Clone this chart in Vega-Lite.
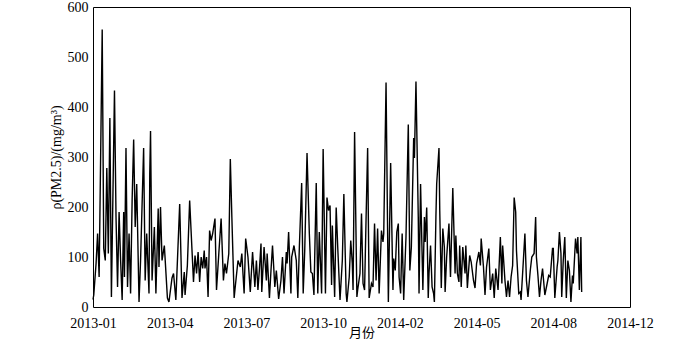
{
  "$schema": "https://vega.github.io/schema/vega-lite/v6.json",
  "width": 537,
  "height": 300,
  "autosize": {"type": "none"},
  "padding": {"left": 93, "top": 7, "right": 70, "bottom": 33},
  "background": "white",
  "config": {
    "view": {"stroke": "black", "strokeWidth": 1},
    "axis": {
      "grid": false,
      "ticks": false,
      "domain": false,
      "labelFont": "Liberation Serif",
      "labelFontSize": 14,
      "labelColor": "black",
      "labelFlush": false,
      "labelOverlap": false,
      "titleFont": "Liberation Serif",
      "titleFontSize": 14,
      "titleFontWeight": "normal",
      "titleColor": "black"
    }
  },
  "data": {
    "values": [
      {"day":0,"pm25":15},{"day":1,"pm25":24},{"day":4,"pm25":87},{"day":6,"pm25":147},{"day":8,"pm25":60},{"day":12,"pm25":555},{"day":14,"pm25":117},{"day":16,"pm25":93},{"day":18,"pm25":278},{"day":20,"pm25":107},{"day":22,"pm25":378},{"day":24,"pm25":20},{"day":28,"pm25":433},{"day":30,"pm25":180},{"day":32,"pm25":40},{"day":34,"pm25":190},{"day":36,"pm25":93},{"day":38,"pm25":14},{"day":40,"pm25":190},{"day":41,"pm25":60},{"day":43,"pm25":318},{"day":45,"pm25":40},{"day":47,"pm25":147},{"day":49,"pm25":27},{"day":51,"pm25":213},{"day":53,"pm25":335},{"day":55,"pm25":160},{"day":57,"pm25":246},{"day":60,"pm25":10},{"day":62,"pm25":93},{"day":66,"pm25":318},{"day":68,"pm25":53},{"day":70,"pm25":147},{"day":73,"pm25":27},{"day":74,"pm25":266},{"day":75,"pm25":352},{"day":77,"pm25":53},{"day":80,"pm25":160},{"day":82,"pm25":27},{"day":85,"pm25":197},{"day":86,"pm25":80},{"day":88,"pm25":200},{"day":90,"pm25":93},{"day":93,"pm25":123},{"day":97,"pm25":18},{"day":99,"pm25":10},{"day":103,"pm25":58},{"day":105,"pm25":67},{"day":108,"pm25":14},{"day":113,"pm25":206},{"day":116,"pm25":18},{"day":119,"pm25":70},{"day":120,"pm25":24},{"day":123,"pm25":83},{"day":126,"pm25":213},{"day":131,"pm25":50},{"day":133,"pm25":103},{"day":135,"pm25":67},{"day":137,"pm25":110},{"day":139,"pm25":50},{"day":141,"pm25":100},{"day":143,"pm25":77},{"day":145,"pm25":113},{"day":146,"pm25":77},{"day":148,"pm25":100},{"day":150,"pm25":20},{"day":152,"pm25":153},{"day":154,"pm25":133},{"day":156,"pm25":147},{"day":159,"pm25":177},{"day":161,"pm25":34},{"day":164,"pm25":107},{"day":167,"pm25":177},{"day":170,"pm25":53},{"day":172,"pm25":87},{"day":174,"pm25":67},{"day":177,"pm25":107},{"day":179,"pm25":296},{"day":181,"pm25":180},{"day":184,"pm25":18},{"day":185,"pm25":34},{"day":189,"pm25":93},{"day":192,"pm25":80},{"day":194,"pm25":107},{"day":197,"pm25":27},{"day":199,"pm25":137},{"day":202,"pm25":100},{"day":205,"pm25":30},{"day":208,"pm25":110},{"day":211,"pm25":40},{"day":213,"pm25":93},{"day":215,"pm25":34},{"day":217,"pm25":77},{"day":219,"pm25":127},{"day":220,"pm25":30},{"day":223,"pm25":120},{"day":226,"pm25":53},{"day":227,"pm25":107},{"day":230,"pm25":18},{"day":232,"pm25":73},{"day":234,"pm25":123},{"day":237,"pm25":40},{"day":239,"pm25":73},{"day":242,"pm25":16},{"day":245,"pm25":53},{"day":247,"pm25":100},{"day":249,"pm25":27},{"day":252,"pm25":110},{"day":253,"pm25":87},{"day":255,"pm25":150},{"day":258,"pm25":27},{"day":259,"pm25":100},{"day":262,"pm25":123},{"day":265,"pm25":93},{"day":267,"pm25":18},{"day":269,"pm25":120},{"day":272,"pm25":248},{"day":274,"pm25":27},{"day":276,"pm25":113},{"day":279,"pm25":308},{"day":282,"pm25":147},{"day":284,"pm25":70},{"day":286,"pm25":67},{"day":288,"pm25":24},{"day":291,"pm25":248},{"day":293,"pm25":27},{"day":295,"pm25":150},{"day":298,"pm25":27},{"day":300,"pm25":316},{"day":303,"pm25":27},{"day":305,"pm25":219},{"day":307,"pm25":193},{"day":309,"pm25":203},{"day":311,"pm25":44},{"day":312,"pm25":163},{"day":315,"pm25":20},{"day":317,"pm25":199},{"day":319,"pm25":120},{"day":322,"pm25":14},{"day":325,"pm25":93},{"day":327,"pm25":226},{"day":330,"pm25":27},{"day":331,"pm25":10},{"day":334,"pm25":60},{"day":336,"pm25":133},{"day":338,"pm25":87},{"day":339,"pm25":34},{"day":341,"pm25":350},{"day":344,"pm25":20},{"day":345,"pm25":34},{"day":348,"pm25":67},{"day":350,"pm25":187},{"day":352,"pm25":47},{"day":354,"pm25":34},{"day":356,"pm25":180},{"day":358,"pm25":318},{"day":360,"pm25":18},{"day":363,"pm25":47},{"day":365,"pm25":40},{"day":367,"pm25":167},{"day":369,"pm25":53},{"day":371,"pm25":157},{"day":373,"pm25":27},{"day":376,"pm25":153},{"day":378,"pm25":130},{"day":379,"pm25":147},{"day":382,"pm25":449},{"day":385,"pm25":10},{"day":388,"pm25":288},{"day":391,"pm25":34},{"day":392,"pm25":97},{"day":394,"pm25":73},{"day":396,"pm25":150},{"day":398,"pm25":167},{"day":399,"pm25":60},{"day":401,"pm25":27},{"day":403,"pm25":147},{"day":405,"pm25":14},{"day":408,"pm25":140},{"day":411,"pm25":365},{"day":413,"pm25":73},{"day":415,"pm25":120},{"day":418,"pm25":338},{"day":419,"pm25":298},{"day":421,"pm25":451},{"day":424,"pm25":180},{"day":425,"pm25":27},{"day":427,"pm25":246},{"day":430,"pm25":34},{"day":432,"pm25":180},{"day":433,"pm25":130},{"day":435,"pm25":199},{"day":437,"pm25":18},{"day":438,"pm25":67},{"day":440,"pm25":123},{"day":442,"pm25":40},{"day":444,"pm25":27},{"day":445,"pm25":10},{"day":447,"pm25":180},{"day":448,"pm25":246},{"day":451,"pm25":318},{"day":452,"pm25":193},{"day":454,"pm25":38},{"day":456,"pm25":157},{"day":458,"pm25":120},{"day":459,"pm25":30},{"day":461,"pm25":100},{"day":464,"pm25":167},{"day":466,"pm25":60},{"day":469,"pm25":238},{"day":472,"pm25":67},{"day":473,"pm25":143},{"day":475,"pm25":67},{"day":477,"pm25":50},{"day":478,"pm25":123},{"day":480,"pm25":40},{"day":482,"pm25":120},{"day":485,"pm25":67},{"day":486,"pm25":123},{"day":488,"pm25":38},{"day":491,"pm25":103},{"day":493,"pm25":90},{"day":496,"pm25":53},{"day":498,"pm25":38},{"day":500,"pm25":87},{"day":503,"pm25":110},{"day":505,"pm25":83},{"day":506,"pm25":137},{"day":509,"pm25":80},{"day":511,"pm25":24},{"day":513,"pm25":80},{"day":516,"pm25":117},{"day":518,"pm25":34},{"day":521,"pm25":67},{"day":523,"pm25":18},{"day":525,"pm25":77},{"day":528,"pm25":34},{"day":531,"pm25":140},{"day":533,"pm25":47},{"day":534,"pm25":123},{"day":537,"pm25":53},{"day":539,"pm25":20},{"day":541,"pm25":53},{"day":543,"pm25":20},{"day":545,"pm25":60},{"day":547,"pm25":83},{"day":549,"pm25":219},{"day":551,"pm25":190},{"day":552,"pm25":113},{"day":555,"pm25":27},{"day":557,"pm25":30},{"day":558,"pm25":14},{"day":561,"pm25":93},{"day":563,"pm25":147},{"day":565,"pm25":53},{"day":567,"pm25":20},{"day":570,"pm25":73},{"day":572,"pm25":100},{"day":575,"pm25":107},{"day":577,"pm25":180},{"day":578,"pm25":100},{"day":580,"pm25":63},{"day":582,"pm25":20},{"day":584,"pm25":53},{"day":586,"pm25":77},{"day":589,"pm25":24},{"day":592,"pm25":47},{"day":594,"pm25":63},{"day":596,"pm25":60},{"day":599,"pm25":117},{"day":600,"pm25":117},{"day":602,"pm25":18},{"day":605,"pm25":80},{"day":606,"pm25":93},{"day":608,"pm25":150},{"day":610,"pm25":107},{"day":611,"pm25":20},{"day":613,"pm25":93},{"day":615,"pm25":140},{"day":617,"pm25":18},{"day":619,"pm25":93},{"day":621,"pm25":73},{"day":623,"pm25":10},{"day":625,"pm25":63},{"day":626,"pm25":47},{"day":629,"pm25":137},{"day":631,"pm25":107},{"day":632,"pm25":140},{"day":634,"pm25":34},{"day":636,"pm25":140},{"day":637,"pm25":30}
    ]
  },
  "mark": {"type": "line", "color": "black", "strokeWidth": 1.4, "interpolate": "linear"},
  "encoding": {
    "x": {
      "field": "day",
      "type": "quantitative",
      "scale": {"domain": [0, 700], "nice": false, "zero": false},
      "axis": {
        "values": [0, 100, 200, 300, 400, 500, 600, 700],
        "labelExpr": "timeFormat(datetime(2013, 0, 1 + datum.value), '%Y-%m')",
        "labelPadding": 9,
        "title": "月份",
        "titleFont": "Noto Sans CJK SC",
        "titleFontSize": 13,
        "titleY": 32,
        "titleBaseline": "bottom"
      }
    },
    "y": {
      "field": "pm25",
      "type": "quantitative",
      "scale": {"domain": [0, 600], "nice": false},
      "axis": {
        "values": [0, 100, 200, 300, 400, 500, 600],
        "labelPadding": 5,
        "title": "ρ(PM2.5)/(mg/m³)",
        "titlePadding": 4
      }
    }
  }
}
